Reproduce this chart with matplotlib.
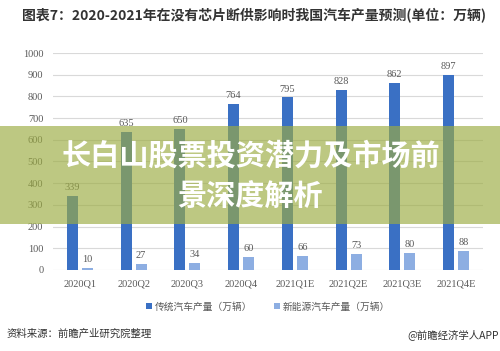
import matplotlib.pyplot as plt
import matplotlib.patches as mpatches
import numpy as np

plt.rcParams['font.family'] = ['Noto Sans CJK SC', 'DejaVu Sans']

quarters = ["2020Q1", "2020Q2", "2020Q3", "2020Q4",
            "2021Q1E", "2021Q2E", "2021Q3E", "2021Q4E"]
traditional = [339, 635, 650, 764, 795, 828, 862, 897]
new_energy = [10, 27, 34, 60, 66, 73, 80, 88]
y_ticks = [0, 100, 200, 300, 400, 500, 600, 700, 800, 900, 1000]

dark_blue = "#3A70C4"
light_blue = "#8DAEE2"
gray_txt = "#595959"
serif = ["Liberation Serif", "DejaVu Serif"]

fig = plt.figure(figsize=(5.0, 3.51), dpi=100)
ax = fig.add_axes([0.106, 0.231, 0.86, 0.618])

x = np.arange(len(quarters))
w = 0.205
off = 0.14
b1 = ax.bar(x - off, traditional, w, color=dark_blue, label="传统汽车产量（万辆）", zorder=3)
b2 = ax.bar(x + off, new_energy, w, color=light_blue, label="新能源汽车产量（万辆）", zorder=3)

for bars, vals in ((b1, traditional), (b2, new_energy)):
    for r, v in zip(bars, vals):
        ax.text(r.get_x() + r.get_width() / 2, v + 18, str(v), ha="center", va="bottom",
                fontsize=7.5, color=gray_txt, family=serif)

ax.set_xlim(-0.5, len(quarters) - 0.5)
ax.set_ylim(0, 1000)
ax.set_yticks(y_ticks)
ax.set_yticklabels([str(t) for t in y_ticks], family=serif, fontsize=7.5, color=gray_txt)
ax.set_xticks(x)
ax.set_xticklabels(quarters, family=serif, fontsize=7.5, color=gray_txt)
ax.tick_params(length=0, pad=7)
ax.grid(axis="y", color="#D9D9D9", linewidth=0.8, zorder=0)
for s in ax.spines.values():
    s.set_visible(False)

ax.legend(loc="upper center", bbox_to_anchor=(0.5, -0.105), ncol=2, frameon=False,
          fontsize=7, labelcolor=gray_txt, handlelength=0.6, handleheight=0.6,
          handletextpad=0.3, columnspacing=2.2)

fig.text(0.044, 0.957, "图表7：2020-2021年在没有芯片断供影响时我国汽车产量预测(单位：万辆)",
         fontsize=10, fontweight="bold", color="#333333", va="center")
fig.text(0.014, 0.048, "资料来源：前瞻产业研究院整理", fontsize=7.5, color="#333333", va="center")
fig.text(0.998, 0.048, "@前瞻经济学人APP", fontsize=7.5, color="#333333", va="center", ha="right")

# translucent green banner over the chart
band = mpatches.Rectangle((0, 0.362), 1, 0.279, transform=fig.transFigure,
                          facecolor=(156 / 255, 172 / 255, 66 / 255), alpha=0.66,
                          edgecolor="none", zorder=10)
fig.patches.append(band)
fig.text(0.502, 0.558, "长白山股票投资潜力及市场前", fontsize=21, fontweight="bold",
         color="white", ha="center", va="center", zorder=11)
fig.text(0.5, 0.439, "景深度解析", fontsize=21, fontweight="bold",
         color="white", ha="center", va="center", zorder=11)

fig.savefig("out.png", dpi=100)
